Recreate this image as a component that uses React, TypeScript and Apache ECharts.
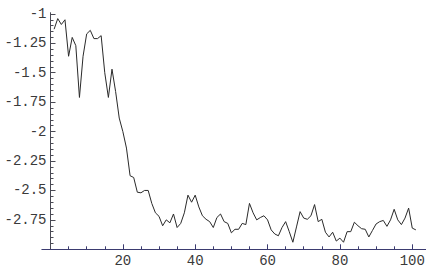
import React, { useEffect, useRef } from "react";
import * as echarts from "echarts";

const yValues: number[] = [
  -1.13, -1.04, -1.09, -1.05, -1.36, -1.2, -1.27, -1.71, -1.36, -1.17,
  -1.14, -1.21, -1.21, -1.185, -1.5, -1.71, -1.47, -1.66, -1.885, -2.0,
  -2.14, -2.375, -2.39, -2.515, -2.52, -2.5, -2.5, -2.61, -2.69, -2.72,
  -2.8, -2.75, -2.775, -2.7, -2.815, -2.78, -2.69, -2.54, -2.6, -2.54,
  -2.64, -2.715, -2.745, -2.765, -2.815, -2.73, -2.7, -2.765, -2.78, -2.86,
  -2.83, -2.83, -2.78, -2.79, -2.61, -2.69, -2.75, -2.73, -2.715, -2.75,
  -2.835, -2.87, -2.885, -2.815, -2.765, -2.85, -2.94, -2.81, -2.68, -2.735,
  -2.745, -2.715, -2.62, -2.765, -2.745, -2.855, -2.895, -2.855, -2.93, -2.905,
  -2.94, -2.85, -2.85, -2.77, -2.8, -2.825, -2.83, -2.895, -2.84, -2.785,
  -2.765, -2.755, -2.805, -2.75, -2.66, -2.75, -2.79, -2.735, -2.65, -2.82,
  -2.835,
];
const xStart = 1;

const xMajorTicks: number[] = [20, 40, 60, 80, 100];
const xMinorTicks: number[] = [5, 10, 15, 25, 30, 35, 45, 50, 55, 65, 70, 75, 85, 90, 95];
const yMajorTicks: number[] = [-2.75, -2.5, -2.25, -2, -1.75, -1.5, -1.25, -1];
const yMinorTicks: number[] = [
  -2.95, -2.9, -2.85, -2.8, -2.7, -2.65, -2.6, -2.55, -2.45, -2.4, -2.35, -2.3,
  -2.2, -2.15, -2.1, -2.05, -1.95, -1.9, -1.85, -1.8, -1.7, -1.65, -1.6, -1.55,
  -1.45, -1.4, -1.35, -1.3, -1.2, -1.15, -1.1, -1.05,
];

const X_MIN = 0;
const X_MAX = 103.7;
const X_AXIS_LEFT_EXT = -2.5;
const Y_MIN = -3;
const Y_MAX = -0.99;

export default function App() {
  const ref = useRef<HTMLDivElement>(null);
  useEffect(() => {
    if (!ref.current) return;
    const chart = echarts.init(ref.current, null, { renderer: "svg" });
    const data = yValues.map((v, i) => [xStart + i, v]);
    const axisColorX = "#3b3b70";
    const axisColorY = "#4a4a55";
    const pxPerUnit = 3.6175;
    const gridLeft = 50.5;
    const gridTop = 12.7;
    const gridHeight = 236.6;
    const gridWidth = (X_MAX - X_MIN) * pxPerUnit;
    const labelStyle = {
      fontFamily: "Liberation Mono",
      fontSize: 14,
      color: "#3a3a3a",
    };
    chart.setOption({
      animation: false,
      backgroundColor: "#ffffff",
      grid: {
        left: gridLeft,
        top: gridTop,
        width: gridWidth,
        height: gridHeight,
        containLabel: false,
        outerBoundsMode: "none",
      },
      xAxis: [
        {
          type: "value",
          position: "bottom",
          min: X_MIN,
          max: X_MAX,
          axisLine: { show: true, onZero: false, lineStyle: { color: axisColorX, width: 1 } },
          axisTick: {
            show: true,
            inside: true,
            length: 5,
            customValues: xMajorTicks,
            lineStyle: { color: axisColorX, width: 1 },
          },
          axisLabel: { show: true, customValues: xMajorTicks, margin: 5, ...labelStyle },
          splitLine: { show: false },
        },
        {
          type: "value",
          position: "bottom",
          min: X_MIN,
          max: X_MAX,
          axisLine: { show: false, onZero: false },
          axisTick: {
            show: true,
            inside: true,
            length: 3,
            customValues: xMinorTicks,
            lineStyle: { color: axisColorX, width: 1 },
          },
          axisLabel: { show: false },
          splitLine: { show: false },
        },
      ],
      yAxis: [
        {
          type: "value",
          position: "left",
          min: Y_MIN,
          max: Y_MAX,
          axisLine: { show: true, onZero: false, lineStyle: { color: axisColorY, width: 1 } },
          axisTick: {
            show: true,
            inside: true,
            length: 5,
            customValues: yMajorTicks,
            lineStyle: { color: axisColorY, width: 1 },
          },
          axisLabel: { show: true, customValues: yMajorTicks, margin: 4, ...labelStyle },
          splitLine: { show: false },
        },
        {
          type: "value",
          position: "left",
          min: Y_MIN,
          max: Y_MAX,
          axisLine: { show: false, onZero: false },
          axisTick: {
            show: true,
            inside: true,
            length: 3,
            customValues: yMinorTicks,
            lineStyle: { color: axisColorY, width: 1 },
          },
          axisLabel: { show: false },
          splitLine: { show: false },
        },
      ],
      series: [
        {
          type: "line",
          xAxisIndex: 0,
          yAxisIndex: 0,
          data,
          showSymbol: false,
          symbol: "none",
          lineStyle: { color: "#2a2a2a", width: 1 },
          clip: false,
        },
      ],
    });

    // short stretch of the x axis to the left of the y axis (x < 0)
    const toX = (v: number) => chart.convertToPixel({ xAxisIndex: 0 }, v) as number;
    const toY = (v: number) => chart.convertToPixel({ yAxisIndex: 0 }, v) as number;
    const crisp = (p: number) => Math.round(p - 0.5) + 0.5;
    const yBottom = crisp(toY(Y_MIN));
    chart.setOption({
      graphic: [
        {
          type: "line",
          silent: true,
          shape: { x1: toX(X_AXIS_LEFT_EXT), y1: yBottom, x2: toX(0), y2: yBottom },
          style: { stroke: axisColorX, lineWidth: 1 },
        },
      ],
    });

    return () => chart.dispose();
  }, []);
  return (
    <div
      ref={ref}
      style={{ position: "fixed", left: 0, top: 0, width: 435, height: 276, background: "#fff" }}
    />
  );
}
